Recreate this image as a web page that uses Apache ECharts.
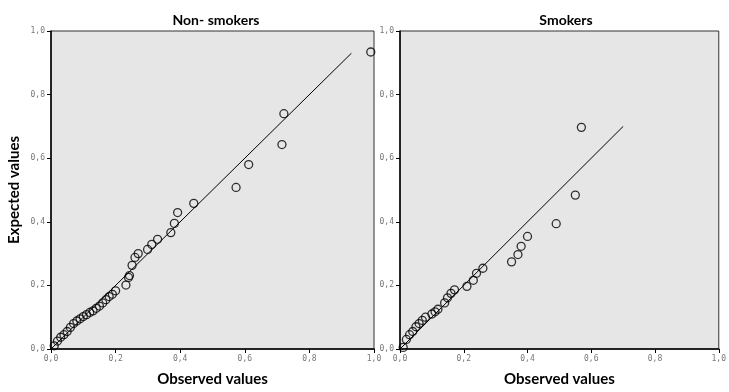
<!DOCTYPE html>
<html><head><meta charset="utf-8">
<script src="https://cdn.jsdelivr.net/npm/echarts@6/dist/echarts.min.js"></script>
<style>html,body{margin:0;padding:0;background:#fff}#c{width:729px;height:392px}</style>
</head><body><div id="c"></div>
<script>
const panelTitles = ["Non- smokers", "Smokers"];
const xAxisTitle = "Observed values";
const yAxisTitle = "Expected values";
const tickValues = [0, 0.2, 0.4, 0.6, 0.8, 1.0];

const nonObserved = [0.01,0.02,0.03,0.04,0.05,0.06,0.07,0.08,0.09,0.10,0.11,0.12,0.13,0.14,0.15,0.16,0.17,0.18,0.19,0.20,0.232,0.24,0.243,0.251,0.26,0.27,0.299,0.312,0.330,0.371,0.382,0.392,0.442,0.573,0.612,0.715,0.721,0.99];
const nonExpected = [0.010,0.025,0.037,0.045,0.055,0.068,0.080,0.088,0.095,0.102,0.108,0.115,0.120,0.128,0.135,0.145,0.155,0.165,0.172,0.183,0.201,0.225,0.231,0.263,0.288,0.300,0.313,0.329,0.345,0.366,0.395,0.429,0.458,0.508,0.580,0.643,0.740,0.934];

const smkObserved = [0.01,0.02,0.03,0.04,0.05,0.06,0.07,0.08,0.10,0.11,0.119,0.14,0.149,0.16,0.171,0.21,0.23,0.24,0.26,0.35,0.37,0.38,0.40,0.49,0.55,0.569];
const smkExpected = [0.005,0.030,0.045,0.055,0.070,0.080,0.090,0.100,0.110,0.117,0.125,0.145,0.161,0.175,0.186,0.197,0.216,0.238,0.254,0.274,0.297,0.323,0.354,0.394,0.484,0.697];

const nonLine = [0, 0.93];
const smkLine = [0, 0.70];

const zip = (a, b) => a.map((v, i) => [v, b[i]]);
const fmt = v => v.toFixed(1).replace('.', ',');

const grids = [
  {left: 51, top: 31, width: 323, height: 320},
  {left: 400, top: 31, width: 322, height: 319}
];
const nameStyle = {fontFamily:'Lato', fontWeight:'bold', fontSize:15, color:'#000'};
function xAx(i){
  return {gridIndex:i, type:'value', min:0, max:1, interval:0.2,
    name:xAxisTitle, nameLocation:'middle', nameGap:23, nameTextStyle:nameStyle,
    axisLine:{show:true, onZero:false, lineStyle:{color:'#000', width:1.5}},
    axisTick:{show:true, length:4, lineStyle:{color:'#000'}},
    axisLabel:{formatter:fmt, fontFamily:'DejaVu Sans Mono', fontSize:8, color:'#777', margin:6},
    splitLine:{show:false}};
}
function yAx(i, named){
  return {gridIndex:i, type:'value', min:0, max:1, interval:0.2,
    name:named ? yAxisTitle : '', nameLocation:'middle', nameGap:29, nameRotate:90, nameTextStyle:nameStyle,
    axisLine:{show:true, onZero:false, lineStyle:{color:'#000', width:1.5}},
    axisTick:{show:true, length:4, lineStyle:{color:'#000'}},
    axisLabel:{formatter:fmt, fontFamily:'DejaVu Sans Mono', fontSize:8, color:'#777', margin:6},
    splitLine:{show:false}};
}
function pts(i, data){
  return {type:'scatter', xAxisIndex:i, yAxisIndex:i, data:data, symbol:'circle', symbolSize:8,
    itemStyle:{color:'rgba(0,0,0,0)', borderColor:'#000', borderWidth:1.3}, z:3};
}
function line(i, ends){
  return {type:'line', xAxisIndex:i, yAxisIndex:i, data:ends.map(v=>[v,v]), symbol:'none',
    lineStyle:{color:'#000', width:1}, z:2};
}
const chart = echarts.init(document.getElementById('c'), null, {renderer:'canvas'});
chart.setOption({
  animation:false,
  backgroundColor:'#fff',
  title:[
    {text:panelTitles[0], left:211, top:8, textAlign:'center', textStyle:{fontFamily:'Lato', fontWeight:'bold', fontSize:14, color:'#000'}},
    {text:panelTitles[1], left:561, top:8, textAlign:'center', textStyle:{fontFamily:'Lato', fontWeight:'bold', fontSize:14, color:'#000'}}
  ],
  grid: grids.map(g => Object.assign({show:true, backgroundColor:'#e6e6e6', borderColor:'#333', borderWidth:1}, g)),
  xAxis:[xAx(0), xAx(1)],
  yAxis:[yAx(0,true), yAx(1,false)],
  series:[
    line(0, nonLine), pts(0, zip(nonObserved, nonExpected)),
    line(1, smkLine), pts(1, zip(smkObserved, smkExpected))
  ]
});
</script></body></html>
